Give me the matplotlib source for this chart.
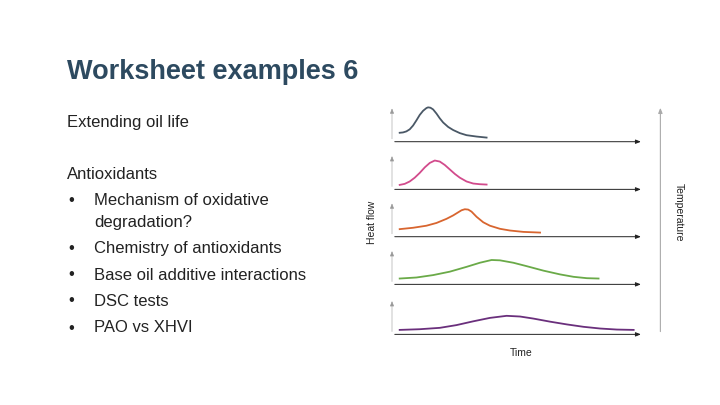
import matplotlib
matplotlib.use("Agg")
import matplotlib.pyplot as plt

# DSC-style curves: time positions (schematic units) and relative heat flow heights
t1 = [120, 130, 140, 150, 160, 170, 180, 190, 200, 205, 212, 220, 230, 240, 250, 265, 280, 300, 320, 350, 380]
h1 = [.26, .27, .30, .36, .47, .62, .78, .90, .98, 1.0, .99, .94, .82, .68, .56, .43, .34, .25, .19, .15, .12]
t2 = [120, 135, 150, 165, 180, 195, 210, 225, 240, 255, 270, 285, 300, 320, 340, 360, 380]
h2 = [.13, .16, .23, .34, .48, .64, .77, .84, .81, .71, .58, .45, .34, .23, .17, .15, .14]
t3 = [120, 160, 200, 230, 260, 280, 295, 305, 315, 325, 335, 350, 370, 390, 420, 450, 490, 540]
h3 = [.22, .26, .32, .40, .52, .62, .71, .77, .80, .79, .73, .58, .42, .32, .23, .18, .14, .12]
t4 = [120, 170, 220, 270, 320, 360, 395, 420, 460, 500, 550, 600, 640, 680, 715]
h4 = [.17, .20, .27, .37, .51, .63, .71, .70, .63, .53, .40, .29, .22, .18, .17]
t5 = [120, 180, 240, 290, 340, 390, 440, 480, 520, 570, 620, 670, 720, 770, 820]
h5 = [.13, .15, .19, .27, .38, .48, .54, .52, .46, .37, .29, .22, .17, .14, .13]

series = [(t1, h1, "#4a5866"), (t2, h2, "#d24b8c"), (t3, h3, "#d8652f"),
          (t4, h4, "#6aaa48"), (t5, h5, "#6a2f7c")]
baselines = [140, 283, 425, 568, 718]
PANEL_H = 103

fig = plt.figure(figsize=(7.2, 4.05), dpi=100)
fig.patch.set_facecolor("white")

fig.text(67/720, 1-72/405, "Worksheet examples 6", fontsize=19.5, color="#2d4a60",
         va="center", family="Liberation Sans", fontweight="bold")
body = dict(fontsize=12, color="#222222", va="center", family="Liberation Sans")
fig.text(67/720, 1-123/405, "Extending oil life", **body)
fig.text(67/720, 1-175/405, "Antioxidants", **body)
items = [(201, "Mechanism of oxidative", True), (222, "degradation?", False),
         (248, "Chemistry of antioxidants", True), (275, "Base oil additive interactions", True),
         (301, "DSC tests", True), (328, "PAO vs XHVI", True)]
for y, s, bullet in items:
    if bullet:
        fig.text(68/720, 1-y/405, "\u2022", **body)
    fig.text(94/720, 1-y/405, s, **body)

ax = fig.add_axes([392/720, 1-341.7/405, 251/720, 240/405])
ax.set_xlim(97, 848)
ax.set_ylim(740, 20)
ax.axis("off")
arr = dict(arrowstyle="-|>,head_length=0.3,head_width=0.12", color="#222222", lw=0.7)
for (t, h, c), b in zip(series, baselines):
    ax.plot(t, [b - v*PANEL_H for v in h], color=c, lw=1.3)
    ax.annotate("", xy=(850, b), xytext=(97, b), arrowprops=arr, annotation_clip=False)
    ax.annotate("", xy=(97, b - 108), xytext=(97, b), arrowprops=dict(arr, lw=0.4, color="#999999"),
                annotation_clip=False)
ax.annotate("", xy=(900, 30), xytext=(900, 718),
            arrowprops=dict(arr, lw=0.8, color="#aaaaaa"), annotation_clip=False)

small = dict(fontsize=7.5, color="#222222", family="Liberation Sans", ha="center", va="center")
fig.text(372/720, 1-222/405, "Heat flow", rotation=90, **small)
fig.text(679/720, 1-212/405, "Temperature", rotation=-90, **small)
fig.text(521/720, 1-353/405, "Time", **small)

fig.savefig("out.png", dpi=100, facecolor="white")
